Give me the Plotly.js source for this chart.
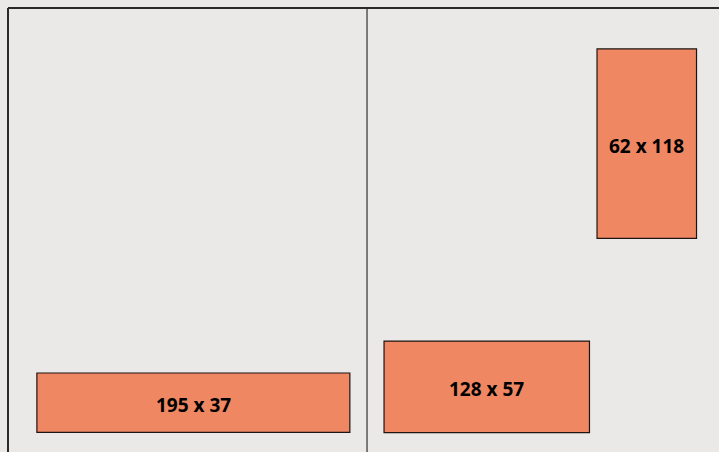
<!DOCTYPE html>
<html>
<head>
<meta charset="utf-8">
<script src="https://cdn.plot.ly/plotly-3.0.1.min.js"></script>
<style>html,body{margin:0;padding:0;background:#ebe9e7;}</style>
</head>
<body>
<div id="chart" style="width:719px;height:452px;"></div>
<script>
// Packed items (units): width, height, placement of top-left corner
const itemWidths  = [195, 128, 62];
const itemHeights = [37, 57, 118];
const itemX       = [18, 234.3, 367];
const itemY       = [227.4, 207.5, 25.5];
// Bin divider position (units)
const binDivider  = [223.7];

const shapes = [];
const annotations = [];
for (let i = 0; i < itemWidths.length; i++) {
  shapes.push({
    type: 'rect', xref: 'x', yref: 'y',
    x0: itemX[i], x1: itemX[i] + itemWidths[i],
    y0: itemY[i], y1: itemY[i] + itemHeights[i],
    fillcolor: '#ee8762', line: {color: '#1c1512', width: 1.2}
  });
  annotations.push({
    xref: 'x', yref: 'y',
    x: itemX[i] + itemWidths[i] / 2,
    y: itemY[i] + itemHeights[i] / 2 + 1.3,
    text: '<b>' + itemWidths[i] + ' x ' + itemHeights[i] + '</b>',
    showarrow: false,
    font: {family: 'Noto Sans, sans-serif', size: 19, color: '#000000'}
  });
}
binDivider.forEach(d => shapes.push({
  type: 'line', xref: 'x', yref: 'paper', x0: d, x1: d, y0: 0, y1: 1,
  line: {color: '#555555', width: 1.5}
}));
// frame top and left
shapes.push({type: 'line', xref: 'paper', yref: 'paper', x0: 0, x1: 1, y0: 1, y1: 1, line: {color: '#2a2a2a', width: 2}});
shapes.push({type: 'line', xref: 'paper', yref: 'paper', x0: 0, x1: 0, y0: 0, y1: 1, line: {color: '#2a2a2a', width: 2}});

const layout = {
  width: 719, height: 452,
  margin: {l: 8, r: 0, t: 8, b: 0},
  paper_bgcolor: '#ebe9e7', plot_bgcolor: '#ebe9e7',
  xaxis: {range: [0, 443], visible: false, fixedrange: true},
  yaxis: {range: [276.6, 0], visible: false, fixedrange: true},
  shapes: shapes, annotations: annotations,
  showlegend: false
};
Plotly.newPlot('chart', [{x: [], y: [], type: 'scatter'}], layout, {displayModeBar: false, staticPlot: true});
</script>
</body>
</html>
